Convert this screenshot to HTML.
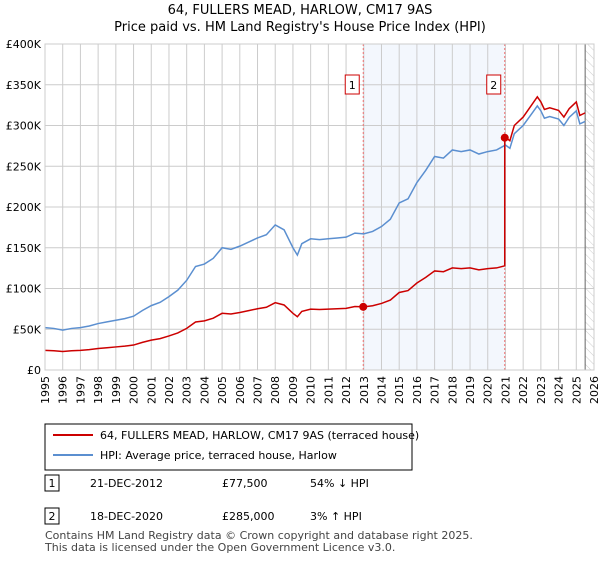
<!DOCTYPE html>
<html><head><meta charset="utf-8"><style>
body{margin:0;background:#fff;font-family:"Liberation Sans","DejaVu Sans",sans-serif;}
svg text{font-family:"DejaVu Sans","Liberation Sans",sans-serif;}
</style></head><body>
<svg id="c" width="600" height="560" xmlns="http://www.w3.org/2000/svg">
<defs><pattern id="hatch" width="6" height="6" patternUnits="userSpaceOnUse" patternTransform="rotate(-45)"><line x1="0" y1="0" x2="0" y2="6" stroke="#ccc" stroke-width="1"/></pattern></defs>
<text x="300" y="14" text-anchor="middle" font-size="13">64, FULLERS MEAD, HARLOW, CM17 9AS</text>
<text x="300" y="31" text-anchor="middle" font-size="13">Price paid vs. HM Land Registry's House Price Index (HPI)</text>
<g id="plot"></g>
<g>
<rect x="45" y="424" width="367" height="46" fill="#fff" stroke="#000" stroke-width="1"/>
<line x1="53" y1="435" x2="93" y2="435" stroke="#cc0000" stroke-width="2"/>
<text x="100" y="439" font-size="11">64, FULLERS MEAD, HARLOW, CM17 9AS (terraced house)</text>
<line x1="53" y1="455" x2="93" y2="455" stroke="#5b8fd0" stroke-width="2"/>
<text x="100" y="459" font-size="11">HPI: Average price, terraced house, Harlow</text>
</g>
<g font-size="11">
<rect x="45" y="475" width="14" height="16" fill="#fff" stroke="#000"/><text x="52" y="487" text-anchor="middle">1</text>
<text x="90" y="487">21-DEC-2012</text><text x="222" y="487">£77,500</text><text x="310" y="487">54% ↓ HPI</text>
<rect x="45" y="508" width="14" height="16" fill="#fff" stroke="#000"/><text x="52" y="520" text-anchor="middle">2</text>
<text x="90" y="520">18-DEC-2020</text><text x="222" y="520">£285,000</text><text x="310" y="520">3% ↑ HPI</text>
</g>
<text x="45" y="539" font-size="11" fill="#444">Contains HM Land Registry data © Crown copyright and database right 2025.</text>
<text x="45" y="551" font-size="11" fill="#444">This data is licensed under the Open Government Licence v3.0.</text>
</svg>
<script>
const hpiYears=[1995,1995.5,1996,1996.5,1997,1997.5,1998,1998.5,1999,1999.5,2000,2000.5,2001,2001.5,2002,2002.5,2003,2003.5,2004,2004.5,2005,2005.5,2006,2006.5,2007,2007.5,2008,2008.5,2009,2009.25,2009.5,2010,2010.5,2011,2011.5,2012,2012.5,2013,2013.5,2014,2014.5,2015,2015.5,2016,2016.5,2017,2017.5,2018,2018.5,2019,2019.5,2020,2020.5,2021,2021.25,2021.5,2022,2022.5,2022.8,2023,2023.2,2023.5,2024,2024.3,2024.6,2025,2025.2,2025.5];
const hpiValues=[52,51,49,51,52,54,57,59,61,63,66,73,79,83,90,98,110,127,130,137,150,148,152,157,162,166,178,172,150,141,155,161,160,161,162,163,168,167,170,176,185,205,210,230,245,262,260,270,268,270,265,268,270,276,272,290,300,315,324,318,309,311,308,300,310,318,302,305];
const saleYears=[2012.97,2020.96];
const salePrices=[77.5,285];
const saleLabels=["1","2"];
const yTicks=[0,50,100,150,200,250,300,350,400];
const yTickLabels=["£0","£50K","£100K","£150K","£200K","£250K","£300K","£350K","£400K"];
const xYears=[1995,1996,1997,1998,1999,2000,2001,2002,2003,2004,2005,2006,2007,2008,2009,2010,2011,2012,2013,2014,2015,2016,2017,2018,2019,2020,2021,2022,2023,2024,2025,2026];
const L=45,R=594,T=44,B=370,dataEnd=2025.5;
const X=y=>L+(y-1995)/(2026-1995)*(R-L);
const Y=v=>B-v/400*(B-T);
const NS="http://www.w3.org/2000/svg",g=document.getElementById('plot');
function mk(t,a){const e=document.createElementNS(NS,t);for(const k in a)e.setAttribute(k,a[k]);g.appendChild(e);return e;}
function hpiAt(y){for(let i=1;i<hpiYears.length;i++)if(y<=hpiYears[i]){const f=(y-hpiYears[i-1])/(hpiYears[i]-hpiYears[i-1]);return hpiValues[i-1]+f*(hpiValues[i]-hpiValues[i-1]);}return hpiValues[hpiValues.length-1];}
let r=mk('rect',{x:X(saleYears[0]),y:T,width:X(saleYears[1])-X(saleYears[0]),height:B-T,fill:'#eef3fc',opacity:0.7});

r=mk('rect',{x:X(dataEnd),y:T,width:R-X(dataEnd),height:B-T,fill:'url(#hatch)'});

xYears.forEach(y=>{const l=mk('line',{x1:X(y),x2:X(y),y1:T,y2:B,stroke:'#ccc'});
const t=mk('text',{transform:`translate(${X(y)+4},${B+6}) rotate(-90)`,'text-anchor':'end','font-size':11});t.textContent=y;});
yTicks.forEach((v,i)=>{const l=mk('line',{x1:L,x2:R,y1:Y(v),y2:Y(v),stroke:'#ccc'});
const t=mk('text',{x:L-4,y:Y(v)+4,'text-anchor':'end','font-size':11});t.textContent=yTickLabels[i];});
const el=mk('line',{x1:X(dataEnd),x2:X(dataEnd),y1:T,y2:B,stroke:'#666'});
saleYears.forEach((y,i)=>{const l=mk('line',{x1:X(y),x2:X(y),y1:T,y2:B,stroke:'#f07070','stroke-dasharray':'2,2'});
const b=mk('rect',{x:X(y)-18,y:75,width:14,height:19,fill:'#fff',stroke:'#cc0000'});
const t=mk('text',{x:X(y)-11,y:89,'text-anchor':'middle','font-size':11});t.textContent=saleLabels[i];});
const hp=mk('polyline',{points:hpiYears.map((y,i)=>X(y)+','+Y(hpiValues[i])).join(' '),fill:'none',stroke:'#5b8fd0','stroke-width':1.5});

let pts=[];
hpiYears.forEach((y,i)=>{const k=y<saleYears[1]?0:1;if(k===1&&pts.length&&!pts.jump){pts.jump=1;pts.push([saleYears[1],salePrices[0]*hpiAt(saleYears[1])/hpiAt(saleYears[0])]);pts.push([saleYears[1],salePrices[1]]);}
pts.push([y,hpiValues[i]*salePrices[k]/hpiAt(saleYears[k])]);});
const pp=mk('polyline',{points:pts.map(p=>X(p[0])+','+Y(p[1])).join(' '),fill:'none',stroke:'#cc0000','stroke-width':1.5});

saleYears.forEach((y,i)=>{const c=mk('circle',{cx:X(y),cy:Y(salePrices[i]),r:4,fill:'#cc0000'});});
const ax=mk('rect',{x:L,y:T,width:R-L,height:B-T,fill:'none',stroke:'#ccc'});
</script>
</body></html>
